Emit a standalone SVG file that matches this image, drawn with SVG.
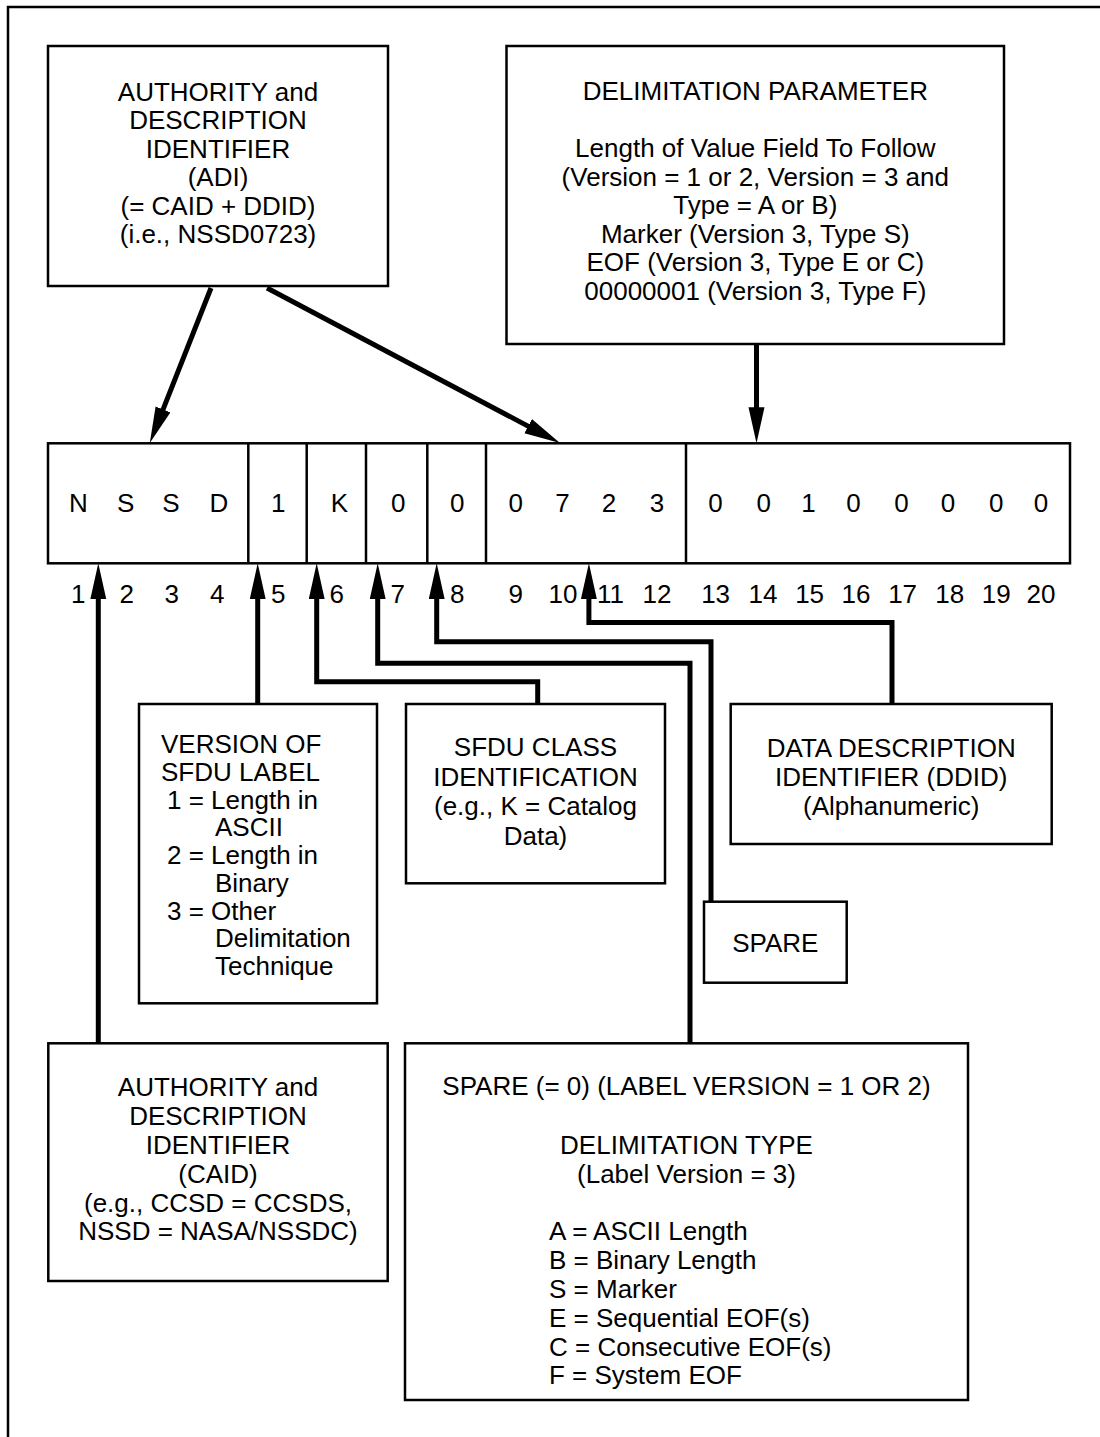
<svg xmlns="http://www.w3.org/2000/svg" width="1100" height="1437" viewBox="0 0 1100 1437">
<style>
.box{fill:#fff;stroke:#000;stroke-width:2.5}
.conn{fill:none;stroke:#000;stroke-width:5;stroke-linejoin:miter}
.frame{fill:none;stroke:#000;stroke-width:2.5}
.div{stroke:#000;stroke-width:2.5}
text{font-family:"Liberation Sans",Arial,Helvetica,sans-serif;font-size:26px;fill:#000}
.c{text-anchor:middle}
</style>
<defs>
<marker id="ah" markerUnits="userSpaceOnUse" markerWidth="40" markerHeight="20" refX="2" refY="8" orient="auto">
<path d="M0,0 L36,8 L0,16 z" fill="#000"/>
</marker>
</defs>
<rect x="0" y="0" width="1100" height="1437" fill="#fff"/>
<path class="frame" d="M8,1437 V7 H1100"/>

<g id="adi">
<rect class="box" x="48" y="46" width="340" height="240"/>
<text class="c" x="218" y="100.5">AUTHORITY and</text>
<text class="c" x="218" y="129">DESCRIPTION</text>
<text class="c" x="218" y="157.5">IDENTIFIER</text>
<text class="c" x="218" y="186">(ADI)</text>
<text class="c" x="218" y="214.5">(= CAID + DDID)</text>
<text class="c" x="218" y="243">(i.e., NSSD0723)</text>
</g>

<g id="delim-param">
<rect class="box" x="506.5" y="46" width="497.5" height="298"/>
<text class="c" x="755.3" y="100">DELIMITATION PARAMETER</text>
<text class="c" x="755.3" y="157">Length of Value Field To Follow</text>
<text class="c" x="755.3" y="185.5">(Version = 1 or 2, Version = 3 and</text>
<text class="c" x="755.3" y="214">Type = A or B)</text>
<text class="c" x="755.3" y="242.5">Marker (Version 3, Type S)</text>
<text class="c" x="755.3" y="271">EOF (Version 3, Type E or C)</text>
<text class="c" x="755.3" y="299.5">00000001 (Version 3, Type F)</text>
</g>

<g id="label-bar">
<rect class="box" x="48" y="443.3" width="1022" height="120"/>
<line class="div" x1="248.3" y1="443.3" x2="248.3" y2="563.3"/>
<line class="div" x1="306.7" y1="443.3" x2="306.7" y2="563.3"/>
<line class="div" x1="366" y1="443.3" x2="366" y2="563.3"/>
<line class="div" x1="427.3" y1="443.3" x2="427.3" y2="563.3"/>
<line class="div" x1="486" y1="443.3" x2="486" y2="563.3"/>
<line class="div" x1="686" y1="443.3" x2="686" y2="563.3"/>
<g class="c">
<text class="c" x="78.3" y="511.7">N</text>
<text class="c" x="125.7" y="511.7">S</text>
<text class="c" x="171" y="511.7">S</text>
<text class="c" x="219" y="511.7">D</text>
<text class="c" x="278.3" y="511.7">1</text>
<text class="c" x="339.3" y="511.7">K</text>
<text class="c" x="398.3" y="511.7">0</text>
<text class="c" x="457.3" y="511.7">0</text>
<text class="c" x="515.7" y="511.7">0</text>
<text class="c" x="562.4" y="511.7">7</text>
<text class="c" x="608.9" y="511.7">2</text>
<text class="c" x="657" y="511.7">3</text>
<text class="c" x="715.6" y="511.7">0</text>
<text class="c" x="763.8" y="511.7">0</text>
<text class="c" x="808.6" y="511.7">1</text>
<text class="c" x="853.4" y="511.7">0</text>
<text class="c" x="901.6" y="511.7">0</text>
<text class="c" x="948" y="511.7">0</text>
<text class="c" x="996.3" y="511.7">0</text>
<text class="c" x="1041" y="511.7">0</text>
</g>
<text class="c" x="78.3" y="602.7">1</text>
<text class="c" x="126.7" y="602.7">2</text>
<text class="c" x="171.7" y="602.7">3</text>
<text class="c" x="217.3" y="602.7">4</text>
<text class="c" x="278.3" y="602.7">5</text>
<text class="c" x="336.7" y="602.7">6</text>
<text class="c" x="397.7" y="602.7">7</text>
<text class="c" x="457.3" y="602.7">8</text>
<text class="c" x="515.7" y="602.7">9</text>
<text class="c" x="563" y="602.7">10</text>
<text class="c" x="610.6" y="602.7">11</text>
<text class="c" x="657" y="602.7">12</text>
<text class="c" x="715.6" y="602.7">13</text>
<text class="c" x="763" y="602.7">14</text>
<text class="c" x="809.6" y="602.7">15</text>
<text class="c" x="856" y="602.7">16</text>
<text class="c" x="902.6" y="602.7">17</text>
<text class="c" x="949.8" y="602.7">18</text>
<text class="c" x="996.3" y="602.7">19</text>
<text class="c" x="1041" y="602.7">20</text>
</g>

<g id="version">
<rect class="box" x="139" y="704" width="238" height="299.3"/>
<text x="161" y="753">VERSION OF</text>
<text x="161" y="781">SFDU LABEL</text>
<text x="167" y="808.5">1 = Length in</text>
<text x="215" y="836">ASCII</text>
<text x="167" y="864">2 = Length in</text>
<text x="215" y="892">Binary</text>
<text x="167" y="919.5">3 = Other</text>
<text x="215" y="947">Delimitation</text>
<text x="215" y="975">Technique</text>
</g>

<g id="sfdu-class">
<rect class="box" x="406" y="704" width="259" height="179.3"/>
<text class="c" x="535.5" y="756">SFDU CLASS</text>
<text class="c" x="535.5" y="786">IDENTIFICATION</text>
<text class="c" x="535.5" y="815">(e.g., K = Catalog</text>
<text class="c" x="535.5" y="844.5">Data)</text>
</g>

<g id="ddid">
<rect class="box" x="730.7" y="704" width="321" height="140"/>
<text class="c" x="891.2" y="756.7">DATA DESCRIPTION</text>
<text class="c" x="891.2" y="786.2">IDENTIFIER (DDID)</text>
<text class="c" x="891.2" y="815">(Alphanumeric)</text>
</g>

<g id="spare">
<rect class="box" x="704" y="901.7" width="142.7" height="81"/>
<text class="c" x="775.3" y="951.7">SPARE</text>
</g>

<g id="caid">
<rect class="box" x="48.3" y="1043.3" width="339.4" height="237.7"/>
<text class="c" x="218" y="1096">AUTHORITY and</text>
<text class="c" x="218" y="1125">DESCRIPTION</text>
<text class="c" x="218" y="1154">IDENTIFIER</text>
<text class="c" x="218" y="1183">(CAID)</text>
<text class="c" x="218" y="1212">(e.g., CCSD = CCSDS,</text>
<text class="c" x="218" y="1240">NSSD = NASA/NSSDC)</text>
</g>

<g id="delim-type">
<rect class="box" x="405" y="1043.3" width="563" height="356.7"/>
<text class="c" x="686.5" y="1095">SPARE (= 0) (LABEL VERSION = 1 OR 2)</text>
<text class="c" x="686.5" y="1154">DELIMITATION TYPE</text>
<text class="c" x="686.5" y="1183">(Label Version = 3)</text>
<text x="549" y="1240">A = ASCII Length</text>
<text x="549" y="1269">B = Binary Length</text>
<text x="549" y="1298">S = Marker</text>
<text x="549" y="1327">E = Sequential EOF(s)</text>
<text x="549" y="1355.5">C = Consecutive EOF(s)</text>
<text x="549" y="1384">F = System EOF</text>
</g>

<g id="connectors">
<path class="conn" d="M211,288 L162.3,411.3" marker-end="url(#ah)"/>
<path class="conn" d="M267,288 L529.9,427.1" marker-end="url(#ah)"/>
<path class="conn" d="M756.5,344 V409.3" marker-end="url(#ah)"/>
<path class="conn" d="M98.3,1043.3 V597.3" marker-end="url(#ah)"/>
<path class="conn" d="M257.7,704 V597.3" marker-end="url(#ah)"/>
<path class="conn" d="M537.7,704 V681.7 H316.7 V597.3" marker-end="url(#ah)"/>
<path class="conn" d="M690,1043.3 V663.3 H377.7 V597.3" marker-end="url(#ah)"/>
<path class="conn" d="M711,901.7 V641.7 H436.7 V597.3" marker-end="url(#ah)"/>
<path class="conn" d="M892,704 V622.5 H588.9 V597.3" marker-end="url(#ah)"/>
</g>
</svg>
